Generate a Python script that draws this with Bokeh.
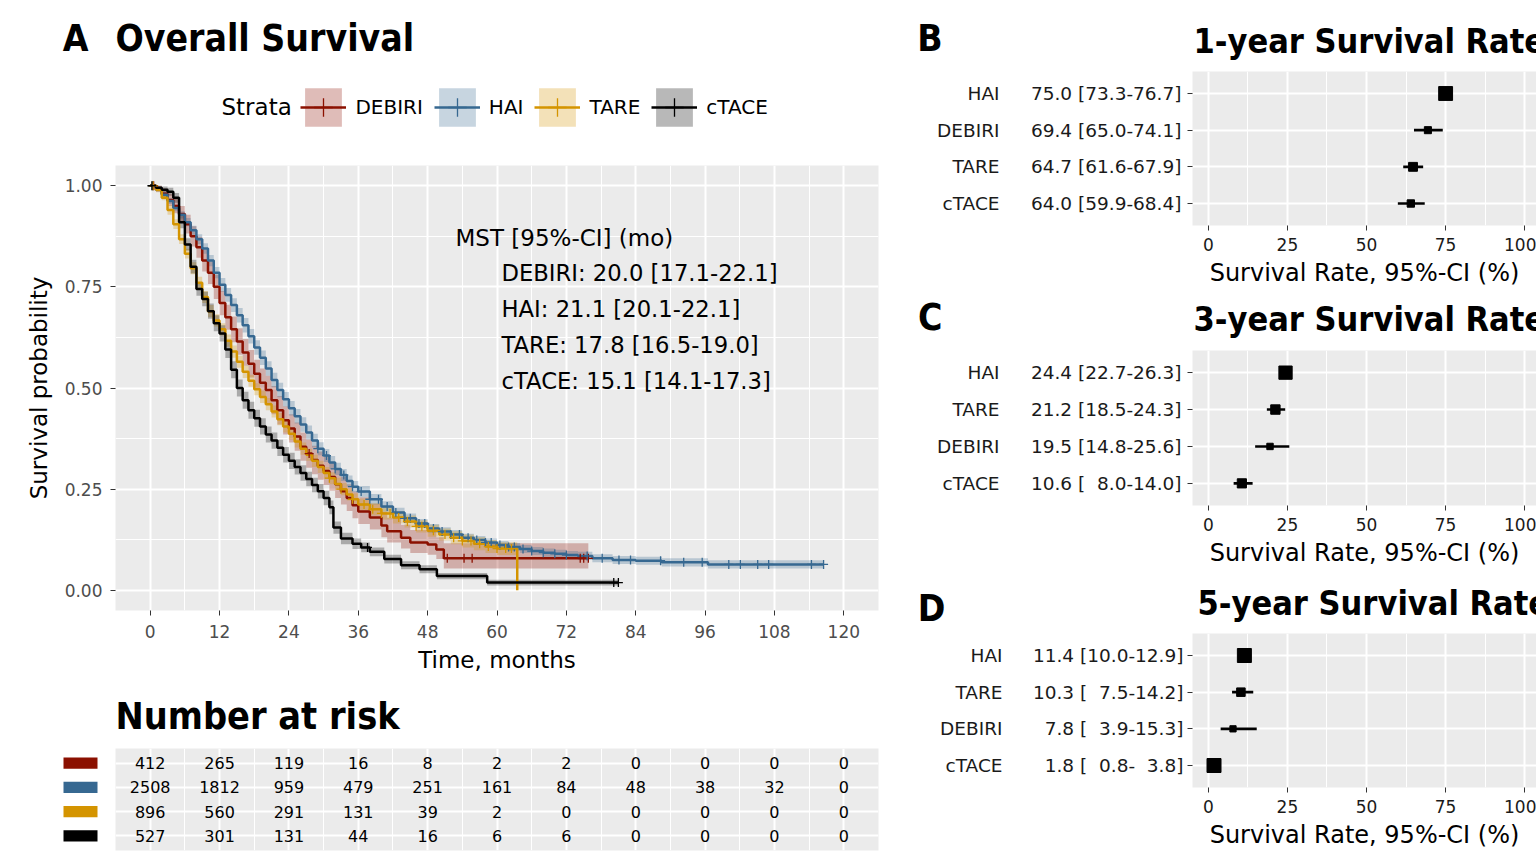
import numpy as np
from bokeh.plotting import figure
from bokeh.models import (Range1d, Label, Legend, LegendItem, FixedTicker, LinearAxis,
                          Grid, PrintfTickFormatter)
from bokeh.layouts import row, column
from bokeh.embed import file_html
from bokeh.resources import INLINE
from bokeh.core.properties import value

FONT = "DejaVu Sans"
BOLD_FONT = "'DejaVu Sans Condensed', 'DejaVu Sans'"
BG = "#EBEBEB"

# ---------------- data ----------------
STRATA = ["DEBIRI", "HAI", "TARE", "cTACE"]
COLORS = ["#8B1000", "#366891", "#D49400", "#000000"]

HAI_t = [0,1,2,3,4,5,6,7,8,9,10,11,12,13,14,15,16,17,18,19,20,21,22,23,24,25,26,27,28,29,30,31,32,33,34,35,36,
         38,40,42,44,46,48,50,52,54,56,58,60,62,64,66,68,70,72,74,76.5,80,84,88.5,96.5,116.5]
HAI_s = [1.0,0.99,0.978,0.962,0.945,0.928,0.91,0.89,0.868,0.845,0.815,0.785,0.755,0.73,0.705,0.68,0.655,0.628,0.6,0.575,
         0.548,0.52,0.495,0.472,0.45,0.43,0.41,0.39,0.37,0.35,0.333,0.316,0.3,0.285,0.27,0.256,0.244,
         0.225,0.207,0.192,0.178,0.165,0.153,0.145,0.138,0.13,0.124,0.118,0.112,0.107,0.102,0.097,0.093,0.09,0.087,0.085,
         0.079,0.075,0.073,0.069,0.064,0.064]
HAI_lo = [1.0,0.986,0.972,0.955,0.937,0.919,0.9,0.879,0.856,0.832,0.801,0.771,0.738,0.713,0.688,0.662,0.637,0.61,0.582,0.557,
          0.53,0.502,0.477,0.454,0.432,0.412,0.392,0.373,0.353,0.334,0.317,0.3,0.285,0.27,0.256,0.242,0.23,
          0.212,0.194,0.18,0.166,0.154,0.142,0.134,0.127,0.12,0.114,0.108,0.102,0.097,0.092,0.087,0.083,0.08,0.077,0.075,
          0.069,0.065,0.063,0.059,0.054,0.054]
HAI_hi = [1.0,0.994,0.984,0.969,0.953,0.937,0.92,0.901,0.88,0.858,0.829,0.799,0.772,0.747,0.722,0.698,0.673,0.646,0.618,0.593,
          0.566,0.538,0.513,0.49,0.468,0.448,0.428,0.407,0.387,0.366,0.349,0.332,0.315,0.3,0.284,0.27,0.258,
          0.238,0.22,0.204,0.19,0.176,0.164,0.156,0.149,0.14,0.134,0.128,0.122,0.117,0.112,0.107,0.103,0.1,0.097,0.095,
          0.089,0.085,0.083,0.079,0.074,0.074]
HAI_cens = [0.4,29,30.5,32,33.5,35,36.5,38,39.5,41,42.5,44,45,46.5,47.5,49,50.5,52,53.5,55,56.5,58,59,60.5,62,63,64.5,
            66,68,70,72,75.6,78.2,81.1,83.1,88.3,92.3,95.5,100.1,102.1,105.1,107.0,114.4,116.5]

DEB_t = [0,1,2,3,4,5,6,7,8,9,10,11,12,13,14,15,16,17,18,19,20,21,22,23,24,25,26,27,28,29,30,31,32,33,34,35,36,
         38,40,41,43.4,45,48,49.5,50.8,75.8]
DEB_s = [1.0,0.993,0.98,0.965,0.95,0.93,0.905,0.875,0.848,0.815,0.785,0.75,0.71,0.675,0.645,0.615,0.588,0.56,0.535,0.513,
         0.495,0.47,0.445,0.42,0.4,0.38,0.355,0.338,0.322,0.308,0.295,0.28,0.262,0.245,0.228,0.21,0.195,
         0.18,0.16,0.146,0.13,0.118,0.113,0.101,0.079,0.079]
DEB_lo = [1.0,0.985,0.967,0.95,0.932,0.91,0.882,0.85,0.822,0.788,0.757,0.72,0.68,0.644,0.613,0.582,0.555,0.526,0.5,0.478,
          0.46,0.435,0.41,0.385,0.365,0.345,0.32,0.303,0.287,0.273,0.26,0.246,0.228,0.212,0.196,0.178,0.164,
          0.15,0.131,0.118,0.103,0.092,0.088,0.077,0.054,0.054]
DEB_hi = [1.0,1.0,0.993,0.98,0.968,0.95,0.928,0.9,0.874,0.842,0.813,0.78,0.74,0.706,0.677,0.648,0.621,0.594,0.57,0.548,
          0.53,0.505,0.48,0.455,0.435,0.415,0.39,0.373,0.357,0.343,0.33,0.316,0.298,0.28,0.262,0.244,0.23,
          0.214,0.194,0.179,0.162,0.149,0.144,0.131,0.116,0.116]
DEB_cens = [0.6,27.5,51.4,54.3,55.7,74.4,75.0,75.8]

TAR_t = [0,1,2,3,4,5,6,7,8,9,10,11,12,13,14,15,16,17,18,19,20,21,22,23,24,25,26,27,28,29,30,31,32,33,34,35,36,
         38,40,42,44,46,48,50,52,54,56,58,60,63.5]
TAR_s = [1.0,0.99,0.97,0.94,0.905,0.868,0.832,0.796,0.76,0.725,0.69,0.667,0.645,0.617,0.59,0.565,0.54,0.518,0.497,0.478,
         0.46,0.442,0.423,0.405,0.387,0.368,0.35,0.335,0.32,0.305,0.29,0.277,0.263,0.25,0.237,0.225,0.212,
         0.2,0.19,0.18,0.17,0.158,0.147,0.138,0.13,0.122,0.115,0.108,0.103,0.0]
TAR_lo = [1.0,0.984,0.964,0.928,0.893,0.856,0.82,0.781,0.745,0.71,0.675,0.652,0.63,0.602,0.575,0.55,0.525,0.503,0.482,0.463,
          0.445,0.427,0.408,0.39,0.372,0.353,0.335,0.32,0.305,0.29,0.275,0.262,0.248,0.235,0.222,0.21,0.197,
          0.185,0.175,0.165,0.155,0.143,0.132,0.123,0.114,0.106,0.099,0.092,0.087,0.0]
TAR_hi = [1.0,0.996,0.976,0.952,0.917,0.88,0.844,0.811,0.775,0.74,0.705,0.682,0.66,0.632,0.605,0.58,0.555,0.533,0.512,0.493,
          0.475,0.457,0.438,0.42,0.402,0.383,0.365,0.35,0.335,0.32,0.305,0.292,0.278,0.265,0.252,0.24,0.227,
          0.215,0.205,0.195,0.185,0.173,0.162,0.153,0.146,0.138,0.131,0.124,0.119,0.0]
TAR_cens = [0.5,31,33,35,37,38.5,40,41.5,43,44.5,46,47,49,51,52.5,54,55.5,57,58.5,60,61.5,62.5]

CT_t = [0,1,2,3,4,5,6,7,8,9,10,11,12,13,14,15,16,17,18,19,20,21,22,23,24,25,26,27,28,29,30,31,
        31.7,33,35,36.5,38,40.5,43.4,46.6,49.6,58.3,81]
CT_s = [1.0,0.995,0.99,0.985,0.97,0.91,0.855,0.8,0.745,0.72,0.69,0.66,0.635,0.595,0.545,0.5,0.47,0.445,0.425,0.405,
        0.385,0.37,0.352,0.335,0.32,0.305,0.29,0.275,0.26,0.245,0.228,0.205,
        0.155,0.128,0.115,0.106,0.095,0.077,0.062,0.052,0.035,0.019,0.019]
CT_lo = [1.0,0.989,0.982,0.975,0.958,0.895,0.84,0.783,0.728,0.702,0.671,0.64,0.615,0.574,0.524,0.479,0.449,0.424,0.404,0.385,
         0.365,0.35,0.332,0.316,0.3,0.286,0.271,0.257,0.242,0.227,0.21,0.188,
         0.14,0.114,0.102,0.094,0.084,0.066,0.052,0.042,0.027,0.012,0.012]
CT_hi = [1.0,1.0,0.998,0.995,0.982,0.925,0.87,0.817,0.762,0.738,0.709,0.68,0.655,0.616,0.566,0.521,0.491,0.466,0.446,0.425,
         0.405,0.39,0.372,0.354,0.34,0.324,0.309,0.293,0.278,0.263,0.246,0.222,
         0.17,0.142,0.128,0.118,0.106,0.088,0.072,0.062,0.043,0.026,0.026]
CT_cens = [0.3,37.6,80.2,81.0]

MST = [20.0, 21.1, 17.8, 15.1]
MST_LO = [17.1, 20.1, 16.5, 14.1]
MST_HI = [22.1, 22.1, 19.0, 17.3]

X_TICKS = [0, 12, 24, 36, 48, 60, 72, 84, 96, 108, 120]
X_MINOR = [6, 18, 30, 42, 54, 66, 78, 90, 102, 114]
Y_TICKS = [0.0, 0.25, 0.5, 0.75, 1.0]
Y_MINOR = [0.125, 0.375, 0.625, 0.875]

RISK_TIMES = [0, 12, 24, 36, 48, 60, 72, 84, 96, 108, 120]
RISK_DEB = [412, 265, 119, 16, 8, 2, 2, 0, 0, 0, 0]
RISK_HAI = [2508, 1812, 959, 479, 251, 161, 84, 48, 38, 32, 0]
RISK_TAR = [896, 560, 291, 131, 39, 2, 0, 0, 0, 0, 0]
RISK_CT = [527, 301, 131, 44, 16, 6, 6, 0, 0, 0, 0]

Y1_NAMES = ["HAI", "DEBIRI", "TARE", "cTACE"]
Y1_EST = [75.0, 69.4, 64.7, 64.0]
Y1_LO = [73.3, 65.0, 61.6, 59.9]
Y1_HI = [76.7, 74.1, 67.9, 68.4]

Y3_NAMES = ["HAI", "TARE", "DEBIRI", "cTACE"]
Y3_EST = [24.4, 21.2, 19.5, 10.6]
Y3_LO = [22.7, 18.5, 14.8, 8.0]
Y3_HI = [26.3, 24.3, 25.6, 14.0]

Y5_NAMES = ["HAI", "TARE", "DEBIRI", "cTACE"]
Y5_EST = [11.4, 10.3, 7.8, 1.8]
Y5_LO = [10.0, 7.5, 3.9, 0.8]
Y5_HI = [12.9, 14.2, 15.3, 3.8]

F_TICKS = [0, 25, 50, 75, 100]
F_MINOR = [12.5, 37.5, 62.5, 87.5]

SERIES = [
    (DEB_t, DEB_s, DEB_lo, DEB_hi, DEB_cens),
    (HAI_t, HAI_s, HAI_lo, HAI_hi, HAI_cens),
    (TAR_t, TAR_s, TAR_lo, TAR_hi, TAR_cens),
    (CT_t, CT_s, CT_lo, CT_hi, CT_cens),
]
RISK = [RISK_DEB, RISK_HAI, RISK_TAR, RISK_CT]


# ---------------- helpers ----------------
def header(w, h, left, right, tag=None, tag_y=None, tag_right=None, tag_size="37px"):
    """White strip; its frame matches the panel below (x in the strip's own pixels, y downwards).
    An optional panel tag (A/B/C/D) is written by a left axis so it can sit left of the frame."""
    p = figure(width=w, height=h, x_range=Range1d(left, w - right), y_range=Range1d(h, 0),
               x_axis_type=None, y_axis_location="left" if tag else None,
               output_backend="svg", toolbar_location=None,
               min_border_left=left, min_border_right=right, min_border_top=0, min_border_bottom=0,
               background_fill_color="white", border_fill_color="white", outline_line_color=None)
    for g in p.xgrid + p.ygrid:
        g.grid_line_color = None
        g.minor_grid_line_color = None
    if tag:
        ax = p.yaxis[0]
        ax.ticker = FixedTicker(ticks=[tag_y])
        ax.major_label_overrides = {tag_y: tag}
        ax.axis_line_color = None
        ax.major_tick_line_color = None
        ax.minor_tick_line_color = None
        ax.major_tick_out = 0
        ax.major_tick_in = 0
        ax.minor_tick_out = 0
        ax.minor_tick_in = 0
        ax.major_label_standoff = left - tag_right
        ax.major_label_text_font = BOLD_FONT
        ax.major_label_text_font_style = "bold"
        ax.major_label_text_font_size = tag_size
        ax.major_label_text_color = "black"
    return p


def head_text(p, x, y, text, size, bold=True):
    p.text(x=[x], y=[y], text=[text], text_font=value(BOLD_FONT if bold else FONT),
           text_font_style="bold" if bold else "normal", text_font_size=size,
           text_baseline="middle", text_align="left", text_color="black")


# ---------------- KM header (title + legend) ----------------
KM_W = 880
HEAD_H = 165
KM_L, KM_R, KM_B = 115, 2, 80
kh = header(KM_W, HEAD_H, KM_L, KM_R, tag="A", tag_y=38, tag_right=88)
head_text(kh, 115, 38, "Overall Survival", "37px")
head_text(kh, 221, 106, "Strata", "23px", bold=False)
# legend key renderers: off-canvas stand-ins carrying each stratum's style
OFF_X = [-60, -50]
OFF_Y = [-60, -50]
items = []
for name, col in zip(STRATA, COLORS):
    d1 = kh.varea(x=OFF_X, y1=OFF_Y, y2=[-55, -45], fill_color=col, fill_alpha=0.28)
    d2 = kh.line(x=OFF_X, y=OFF_Y, line_color=col, line_width=2.5)
    d3 = kh.scatter(x=OFF_X, y=OFF_Y, marker="cross", size=9, line_color=col, line_width=1.3)
    items.append(LegendItem(label=name, renderers=[d1, d2, d3]))
legend = Legend(items=items, orientation="horizontal", location=(305 - 4.6 - KM_L, HEAD_H - 130.8),
                glyph_width=46, glyph_height=48, label_standoff=9, spacing=11,
                padding=0, margin=0, border_line_color=None, background_fill_alpha=0,
                label_text_font=FONT, label_text_font_size="20px", label_text_color="black")
kh.add_layout(legend)

# ---------------- KM figure ----------------
KM_H = 690 - HEAD_H
KX0, KX1 = -6, 126
KY0, KY1 = -0.05, 1.05
KFW = KM_W - KM_L - KM_R
KFH = KM_H - KM_B


def kx(px):
    return KX0 + (px - KM_L) * (KX1 - KX0) / KFW


def ky(py):  # py in page pixels
    return KY1 - (py - HEAD_H) * (KY1 - KY0) / KFH


km = figure(width=KM_W, height=KM_H, x_range=Range1d(KX0, KX1), y_range=Range1d(KY0, KY1),
            output_backend="svg", toolbar_location=None,
            min_border_left=KM_L, min_border_right=KM_R, min_border_top=0, min_border_bottom=KM_B,
            background_fill_color=BG, border_fill_color="white", outline_line_color=None)

for ax, ticks, minor in ((km.xaxis[0], X_TICKS, X_MINOR), (km.yaxis[0], Y_TICKS, Y_MINOR)):
    ax.ticker = FixedTicker(ticks=ticks, minor_ticks=minor)
    ax.axis_line_color = None
    ax.major_tick_line_color = "#333333"
    ax.major_tick_out = 5
    ax.major_tick_in = 0
    ax.minor_tick_out = 0
    ax.minor_tick_in = 0
    ax.major_label_text_font = FONT
    ax.major_label_text_font_size = "17px"
    ax.major_label_text_color = "#4D4D4D"
    ax.axis_label_text_font = FONT
    ax.axis_label_text_font_size = "23px"
    ax.axis_label_text_font_style = "normal"
    ax.axis_label_text_color = "black"
km.xaxis[0].axis_label = "Time, months"
km.xaxis[0].major_label_standoff = 9
km.xaxis[0].axis_label_standoff = 6
km.yaxis[0].axis_label = "Survival probability"
km.yaxis[0].formatter = PrintfTickFormatter(format="%.2f")
km.yaxis[0].major_label_standoff = 8
km.yaxis[0].axis_label_standoff = 10
for g in (km.xgrid[0], km.ygrid[0]):
    g.grid_line_color = "white"
    g.grid_line_width = 2
    g.minor_grid_line_color = "white"
    g.minor_grid_line_width = 1

for (t, s, lo, hi, cens), col in zip(SERIES, COLORS):
    km.varea_step(x=t, y1=lo, y2=hi, step_mode="after", fill_color=col, fill_alpha=0.28)
for (t, s, lo, hi, cens), col in zip(SERIES, COLORS):
    km.step(x=t, y=s, mode="after", line_color=col, line_width=2.5)
for (t, s, lo, hi, cens), col in zip(SERIES, COLORS):
    idx = np.searchsorted(np.array(t), np.array(cens), side="right") - 1
    cy = np.array(s)[idx]
    km.scatter(x=cens, y=cy, marker="cross", size=9, line_color=col, line_width=1.3)

km.add_layout(Label(x=kx(455), y=ky(237), text="MST [95%-CI] (mo)", text_font=FONT, text_font_size="23px",
                    text_baseline="middle", text_color="black"))
for i, name in enumerate(STRATA):
    km.add_layout(Label(x=kx(501), y=ky(272 + 36 * i),
                        text=f"{name}: {MST[i]:.1f} [{MST_LO[i]:.1f}-{MST_HI[i]:.1f}]",
                        text_font=FONT, text_font_size="22.7px", text_baseline="middle", text_color="black"))

# ---------------- risk table ----------------
RH_H = 58
rh = header(KM_W, RH_H, KM_L, KM_R)
head_text(rh, 115, 25, "Number at risk", "37.5px")

RT_H = 857 - 690 - RH_H
RT_BOT = 7
rt = figure(width=KM_W - KM_L, height=RT_H, x_range=Range1d(KX0, KX1), y_range=Range1d(0.4, 4.6),
            x_axis_type=None, y_axis_type=None, output_backend="svg", toolbar_location=None,
            min_border_left=0, min_border_right=KM_R, min_border_top=0, min_border_bottom=RT_BOT,
            background_fill_color=BG, border_fill_color="white", outline_line_color=None)
rt.add_layout(Grid(dimension=0, ticker=FixedTicker(ticks=X_TICKS, minor_ticks=X_MINOR),
                   grid_line_color="white", grid_line_width=2,
                   minor_grid_line_color="white", minor_grid_line_width=1))
rows_y = [4, 3, 2, 1]
rt.add_layout(Grid(dimension=1, ticker=FixedTicker(ticks=rows_y), grid_line_color="white", grid_line_width=2))
rx, ry, rtxt = [], [], []
for yv, counts in zip(rows_y, RISK):
    for tv, c in zip(RISK_TIMES, counts):
        rx.append(tv)
        ry.append(yv)
        rtxt.append(str(c))
rt.text(x=rx, y=ry, text=rtxt, text_align="center", text_baseline="middle",
        text_font=value(FONT), text_font_size="16px", text_color="black")

sq = figure(width=KM_L, height=RT_H, x_range=Range1d(0, KM_L), y_range=Range1d(0.4, 4.6),
            x_axis_type=None, y_axis_type=None, output_backend="svg", toolbar_location=None,
            min_border_left=0, min_border_right=0, min_border_top=0, min_border_bottom=RT_BOT,
            background_fill_color="white", border_fill_color="white", outline_line_color=None)
sq.rect(x=[80] * 4, y=rows_y, width=34, height=0.46, fill_color=COLORS, line_color=None)

# ---------------- forest panels ----------------
FW = 1536 - KM_W
FL = 312
PPU = 3.164
FX0 = -5
FS = "18.5px"


def fmt(v):
    return f"{v:4.1f}".replace(" ", "\u00a0\u00a0")


def forest(names, est, lo, hi, height, bottom, std1, std2):
    fw = FW - FL
    x_end = FX0 + fw / PPU
    p = figure(width=FW, height=height, x_range=Range1d(FX0, x_end), y_range=Range1d(0.4, 4.6),
               output_backend="svg", toolbar_location=None,
               min_border_left=FL, min_border_right=0, min_border_top=0, min_border_bottom=bottom,
               background_fill_color=BG, border_fill_color="white", outline_line_color=None)
    n = len(names)
    ys = list(range(n, 0, -1))
    widths = np.array(hi) - np.array(lo)
    sizes = np.minimum(14, 3 + 37 / widths)
    p.segment(x0=lo, x1=hi, y0=ys, y1=ys, line_color="black", line_width=2.6)
    p.scatter(x=est, y=ys, marker="square", size=sizes, fill_color="black", line_color="black")

    labels = [f"{fmt(e)} [{fmt(l)}-{fmt(h)}]" for e, l, h in zip(est, lo, hi)]
    yax = p.yaxis[0]
    yax.ticker = FixedTicker(ticks=ys)
    yax.major_label_overrides = {y: lab for y, lab in zip(ys, labels)}
    yax.axis_line_color = None
    yax.major_tick_line_color = "#333333"
    yax.major_tick_out = 5
    yax.major_tick_in = 0
    yax.minor_tick_out = 0
    yax.minor_tick_in = 0
    yax.major_label_standoff = std1
    yax.major_label_text_font = FONT
    yax.major_label_text_font_size = FS
    yax.major_label_text_color = "#1A1A1A"

    nax = LinearAxis(ticker=FixedTicker(ticks=ys), major_label_overrides={y: nm for y, nm in zip(ys, names)},
                     axis_line_color=None, major_tick_line_color=None, minor_tick_line_color=None,
                     major_tick_out=0, major_tick_in=0, minor_tick_out=0, minor_tick_in=0,
                     major_label_standoff=std2, major_label_text_font=FONT,
                     major_label_text_font_size=FS, major_label_text_color="#1A1A1A")
    p.add_layout(nax, "left")

    xax = p.xaxis[0]
    xax.ticker = FixedTicker(ticks=F_TICKS, minor_ticks=F_MINOR)
    xax.axis_line_color = None
    xax.major_tick_line_color = "#333333"
    xax.major_tick_out = 5
    xax.major_tick_in = 0
    xax.minor_tick_out = 0
    xax.minor_tick_in = 0
    xax.major_label_standoff = 7
    xax.major_label_text_font = FONT
    xax.major_label_text_font_size = "17px"
    xax.major_label_text_color = "#1A1A1A"
    xax.axis_label = "Survival Rate, 95%-CI (%)"
    xax.axis_label_text_font = FONT
    xax.axis_label_text_font_size = "24px"
    xax.axis_label_text_font_style = "normal"
    xax.axis_label_text_color = "black"
    xax.axis_label_standoff = 5

    p.xgrid[0].grid_line_color = "white"
    p.xgrid[0].grid_line_width = 2
    p.xgrid[0].minor_grid_line_color = "white"
    p.xgrid[0].minor_grid_line_width = 1
    p.ygrid[0].grid_line_color = "white"
    p.ygrid[0].grid_line_width = 2
    return p


def forest_head(h, tag, tag_y, tag_right, title, title_x, title_y):
    p = header(FW, h, FL, 0, tag=tag, tag_y=tag_y, tag_right=tag_right)
    head_text(p, title_x, title_y, title, "34px")
    return p


hB = forest_head(71, "B", 38, 942 - KM_W, "1-year Survival Rate", 313, 40)
fB = forest(Y1_NAMES, Y1_EST, Y1_LO, Y1_HI, 219, 65, 6, 28)
hC = forest_head(60, "C", 27, 942 - KM_W, "3-year Survival Rate", 313, 28)
fC = forest(Y3_NAMES, Y3_EST, Y3_LO, Y3_HI, 223, 68, 6, 28)
hD = forest_head(60, "D", 42, 945 - KM_W, "5-year Survival Rate", 317, 29)
fD = forest(Y5_NAMES, Y5_EST, Y5_LO, Y5_HI, 224, 70, 4, 27)

layout = row(column(kh, km, rh, row(sq, rt)), column(hB, fB, hC, fC, hD, fD))
open("out.html", "w").write(file_html(layout, INLINE, title="Overall Survival"))
